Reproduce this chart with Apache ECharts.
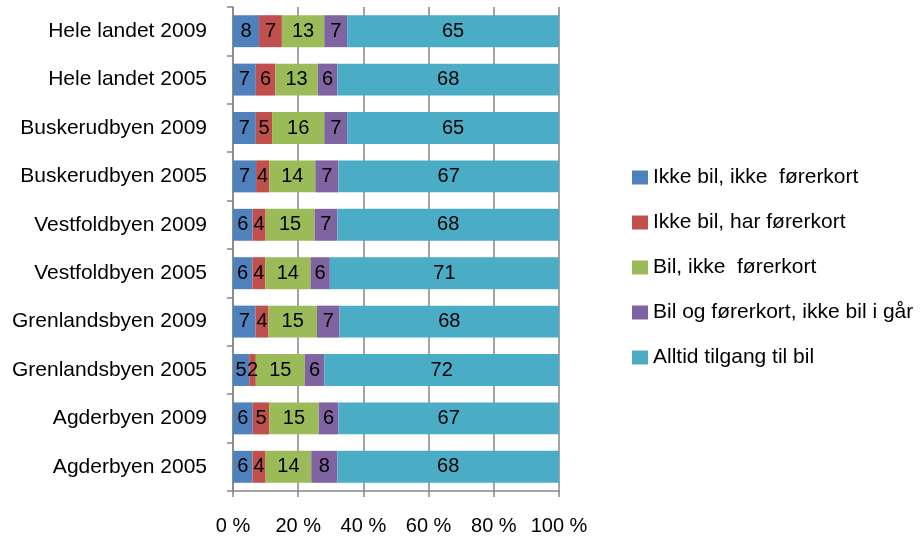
<!DOCTYPE html>
<html>
<head>
<meta charset="utf-8">
<script src="https://cdn.jsdelivr.net/npm/echarts@6/dist/echarts.min.js"></script>
<style>html,body{margin:0;padding:0;background:#fff}#c{width:923px;height:538px}</style>
</head>
<body>
<div id="c"></div>
<script>
const categories = ["Hele landet 2009","Hele landet 2005","Buskerudbyen 2009","Buskerudbyen 2005","Vestfoldbyen 2009","Vestfoldbyen 2005","Grenlandsbyen 2009","Grenlandsbyen 2005","Agderbyen 2009","Agderbyen 2005"];
const seriesNames = ["Ikke bil, ikke  førerkort","Ikke bil, har førerkort","Bil, ikke  førerkort","Bil og førerkort, ikke bil i går","Alltid tilgang til bil"];
const ikkeBilIkkeForerkort = [8,7,7,7,6,6,7,5,6,6];
const ikkeBilHarForerkort = [7,6,5,4,4,4,4,2,5,4];
const bilIkkeForerkort = [13,13,16,14,15,14,15,15,15,14];
const bilOgForerkortIkkeBilIGar = [7,6,7,7,7,6,7,6,6,8];
const alltidTilgang = [65,68,65,67,68,71,68,72,67,68];
const xTicks = [0,20,40,60,80,100];
const colors = ["#4F81BD","#C0504D","#9BBB59","#8064A2","#4BACC6"];

const raw = [ikkeBilIkkeForerkort, ikkeBilHarForerkort, bilIkkeForerkort, bilOgForerkortIkkeBilIGar, alltidTilgang];
const totals = categories.map((_, i) => raw.reduce((s, a) => s + a[i], 0));
const FONT = "'Liberation Sans Narrow','Arial Narrow','Liberation Sans',Arial,sans-serif";

const series = raw.map((arr, k) => ({
  name: seriesNames[k],
  type: 'bar',
  stack: 'total',
  barWidth: '66%',
  itemStyle: { color: colors[k] },
  label: {
    show: true, position: 'inside', color: '#000', fontSize: 20, fontFamily: FONT,
    formatter: p => String(arr[p.dataIndex])
  },
  data: arr.map((v, i) => v / totals[i] * 100)
}));

const chart = echarts.init(document.getElementById('c'));
chart.setOption({
  animation: false,
  color: colors,
  grid: { left: 233, right: 364, top: 7, bottom: 47, containLabel: false },
  legend: {
    orient: 'vertical', left: 632, top: 167, itemGap: 24, padding: 0,
    itemWidth: 16, itemHeight: 14,
    icon: 'rect',
    textStyle: { fontSize: 21, fontFamily: FONT, color: '#000' },
    data: seriesNames
  },
  xAxis: {
    type: 'value', min: 0, max: 100, interval: 20,
    axisLine: { show: true, lineStyle: { color: '#868686', width: 1.5 } },
    axisTick: { show: true, length: 6, lineStyle: { color: '#868686', width: 1.5 } },
    splitLine: { show: true, lineStyle: { color: '#868686', width: 1.5 } },
    axisLabel: { formatter: v => v + ' %', fontSize: 20, fontFamily: FONT, color: '#000', margin: 25 },
    data: xTicks
  },
  yAxis: {
    type: 'category', inverse: true, data: categories,
    axisLine: { show: true, lineStyle: { color: '#868686', width: 1.5 } },
    axisTick: { show: true, length: 6, lineStyle: { color: '#868686', width: 1.5 } },
    axisLabel: { fontSize: 21, fontFamily: FONT, color: '#000', margin: 26 }
  },
  series
});
</script>
</body>
</html>
